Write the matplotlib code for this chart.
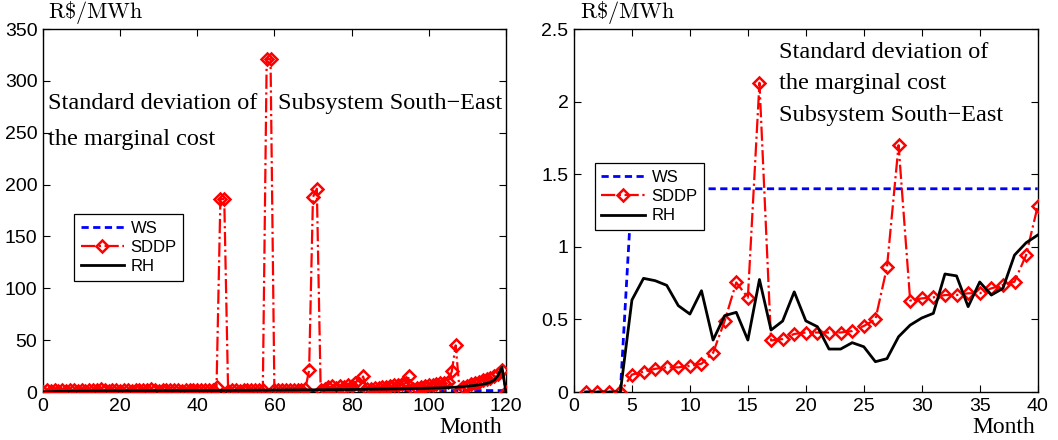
import matplotlib
matplotlib.use("Agg")
import matplotlib.pyplot as plt
from matplotlib.ticker import FuncFormatter

# ---- 10-year horizon (months 0..120) ----
months_long = list(range(0, 121))

ws_long = [0.0] * 4 + [1.4] * 117

sddp_long = [
    0.0, 1.5, 1.2, 1.8, 1.4, 1.6, 1.3, 1.7, 1.5, 1.4,      # 0-9
    1.6, 1.3, 1.8, 1.5, 2.0, 3.2, 1.6, 1.4, 1.7, 1.5,      # 10-19
    1.3, 1.6, 1.8, 1.4, 1.5, 1.7, 1.6, 1.9, 2.6, 1.5,      # 20-29
    1.4, 1.6, 1.8, 1.5, 1.7, 1.6, 1.4, 1.8, 1.6, 1.5,      # 30-39
    1.7, 1.6, 1.8, 1.9, 2.2, 5.0, 186.0, 186.0, 1.2, 1.5,  # 40-49
    1.6, 1.4, 1.7, 1.5, 1.8, 1.6, 1.9, 2.2, 321.0, 321.0,  # 50-59
    1.5, 1.8, 1.6, 1.9, 2.0, 1.8, 2.1, 2.4, 2.6, 21.0,     # 60-69
    188.0, 196.0, 2.0, 3.0, 4.5, 5.5, 3.5, 6.0, 5.0, 7.0,  # 70-79
    6.0, 9.0, 8.0, 15.0, 2.5, 3.0, 3.5, 4.0, 5.0, 5.0,     # 80-89
    6.0, 6.5, 7.0, 8.0, 8.5, 15.0, 3.0, 4.0, 5.0, 6.0,     # 90-99
    6.5, 7.0, 8.0, 8.5, 9.0, 10.0, 20.0, 45.0, 2.0, 5.0,   # 100-109
    6.0, 8.0, 9.0, 10.0, 11.5, 12.5, 14.0, 15.0, 17.0, 21.0,  # 110-119
    0.0,                                                   # 120
]

rh_long = [
    0.0, 0.3, 0.4, 0.5, 0.6, 0.6, 0.7, 0.7, 0.7, 0.8,
    0.8, 0.8, 0.8, 0.9, 0.9, 0.9, 0.9, 1.0, 1.0, 1.0,
    1.0, 1.0, 1.1, 1.1, 1.1, 1.1, 1.1, 1.2, 1.2, 1.2,
    1.2, 1.2, 1.3, 1.3, 1.3, 1.3, 1.3, 1.4, 1.4, 1.4,
    1.4, 1.4, 1.5, 1.5, 1.5, 1.5, 1.6, 1.6, 1.6, 1.6,
    1.6, 1.7, 1.7, 1.7, 1.7, 1.8, 1.8, 1.8, 1.8, 1.9,
    1.9, 1.9, 1.9, 2.0, 2.0, 2.0, 2.0, 2.1, 2.1, 2.1,
    2.1, 2.2, 2.2, 2.2, 2.3, 2.3, 2.3, 2.4, 2.4, 2.4,
    2.5, 2.5, 2.6, 2.6, 2.7, 2.7, 2.8, 2.8, 2.9, 2.9,
    3.0, 3.0, 3.1, 3.2, 3.3, 3.3, 3.4, 3.5, 3.5, 3.6,
    3.7, 3.8, 3.9, 4.0, 4.1, 4.3, 4.5, 4.7, 5.0, 5.3,
    5.7, 6.0, 6.4, 7.0, 7.6, 8.3, 9.5, 11.5, 16.0, 24.0,
    1.0,
]

# ---- first 40 months ----
months_short = list(range(1, 41))

ws_short = [0.0] * 4 + [1.4] * 36

sddp_short = [
    0.0, 0.0, 0.0, 0.0, 0.12, 0.14, 0.16, 0.17, 0.17, 0.18,
    0.195, 0.27, 0.49, 0.755, 0.65, 2.13, 0.355, 0.365, 0.40, 0.41,
    0.41, 0.41, 0.41, 0.42, 0.455, 0.50, 0.86, 1.70, 0.63, 0.645,
    0.652, 0.668, 0.668, 0.68, 0.68, 0.714, 0.737, 0.76, 0.943, 1.28,
]

rh_short = [
    0.0, 0.0, 0.0, 0.0, 0.634, 0.783, 0.767, 0.735, 0.595, 0.537,
    0.698, 0.358, 0.526, 0.549, 0.358, 0.775, 0.427, 0.489, 0.69, 0.49,
    0.45, 0.296, 0.296, 0.34, 0.312, 0.209, 0.23, 0.381, 0.461, 0.51,
    0.542, 0.813, 0.80, 0.588, 0.758, 0.668, 0.714, 0.943, 1.028, 1.081,
]

legend_labels = ["WS", "SDDP", "RH"]

SERIF = "Liberation Serif"
SANS = "Liberation Sans"
plt.rcParams["mathtext.fontset"] = "cm"

fig = plt.figure(figsize=(10.58, 4.40), dpi=100)
ax1 = fig.add_axes([0.0406, 0.109, 0.4375, 0.825])
ax2 = fig.add_axes([0.5425, 0.109, 0.4383, 0.825])

fmt = FuncFormatter(lambda v, p: "%g" % v)


def draw_panel(ax, x, ws, sddp, rh):
    ax.plot(x, ws, color="#0000ff", linestyle="--", linewidth=2.0,
            dashes=(2.6, 1.6), label=legend_labels[0], zorder=2)
    ax.plot(x, sddp, color="#ff0000", linestyle="-.", linewidth=1.6,
            marker="D", markersize=6.5, markerfacecolor="none",
            markeredgecolor="#ff0000", markeredgewidth=1.8,
            label=legend_labels[1], zorder=3)
    ax.plot(x, rh, color="black", linestyle="-", linewidth=2.0,
            label=legend_labels[2], zorder=4)
    ax.tick_params(direction="in", top=True, right=True, length=5,
                   width=0.8, labelsize=14, pad=4)
    ax.yaxis.set_major_formatter(fmt)
    ax.xaxis.set_major_formatter(fmt)
    for s in ax.spines.values():
        s.set_linewidth(1.0)


draw_panel(ax1, months_long, ws_long, sddp_long, rh_long)
ax1.set_xlim(0, 120)
ax1.set_ylim(0, 350)
ax1.set_xticks(range(0, 121, 20))
ax1.set_yticks(range(0, 351, 50))

draw_panel(ax2, months_short, ws_short, sddp_short, rh_short)
ax2.set_xlim(0, 40)
ax2.set_ylim(0, 2.5)
ax2.set_xticks(range(0, 41, 5))
ax2.set_yticks([0, 0.5, 1, 1.5, 2, 2.5])

for ax in (ax1, ax2):
    for lab in ax.get_xticklabels() + ax.get_yticklabels():
        lab.set_fontfamily(SANS)

leg_kw = dict(loc="upper left", borderaxespad=0, fancybox=False,
              edgecolor="black", framealpha=1, handlelength=2.6,
              handletextpad=0.4, labelspacing=0.25, borderpad=0.4,
              prop={"family": SANS, "size": 12})
leg1 = ax1.legend(bbox_to_anchor=(0.067, 0.49), **leg_kw)
leg2 = ax2.legend(bbox_to_anchor=(0.045, 0.63), **leg_kw)
for leg in (leg1, leg2):
    leg.get_frame().set_linewidth(0.9)

txt = dict(fontfamily=SERIF, fontsize=17.5, color="black")

# unit labels above the y axes and month labels under the x axes
unit = r"$\mathrm{R\$/MWh}$"
fig.text(48 / 1058, 1 - 12 / 440, unit, va="center", ha="left", fontsize=16)
fig.text(580 / 1058, 1 - 12 / 440, unit, va="center", ha="left", fontsize=16)
fig.text(439 / 1058, 1 - 427 / 440, "Month", va="center", ha="left",
         fontfamily=SERIF, fontsize=17)
fig.text(972 / 1058, 1 - 427 / 440, "Month", va="center", ha="left",
         fontfamily=SERIF, fontsize=17)

# panel annotations
fig.text(48 / 1058, 1 - 103 / 440, "Standard deviation of", va="center", ha="left", **txt)
fig.text(48 / 1058, 1 - 139 / 440, "the marginal cost", va="center", ha="left", **txt)
fig.text(278 / 1058, 1 - 103 / 440, "Subsystem South\u2212East", va="center", ha="left", **txt)

fig.text(779 / 1058, 1 - 53 / 440, "Standard deviation of", va="center", ha="left", **txt)
fig.text(779 / 1058, 1 - 84 / 440, "the marginal cost", va="center", ha="left", **txt)
fig.text(779 / 1058, 1 - 115 / 440, "Subsystem South\u2212East", va="center", ha="left", **txt)

fig.savefig("out.png", dpi=100, facecolor="white")
